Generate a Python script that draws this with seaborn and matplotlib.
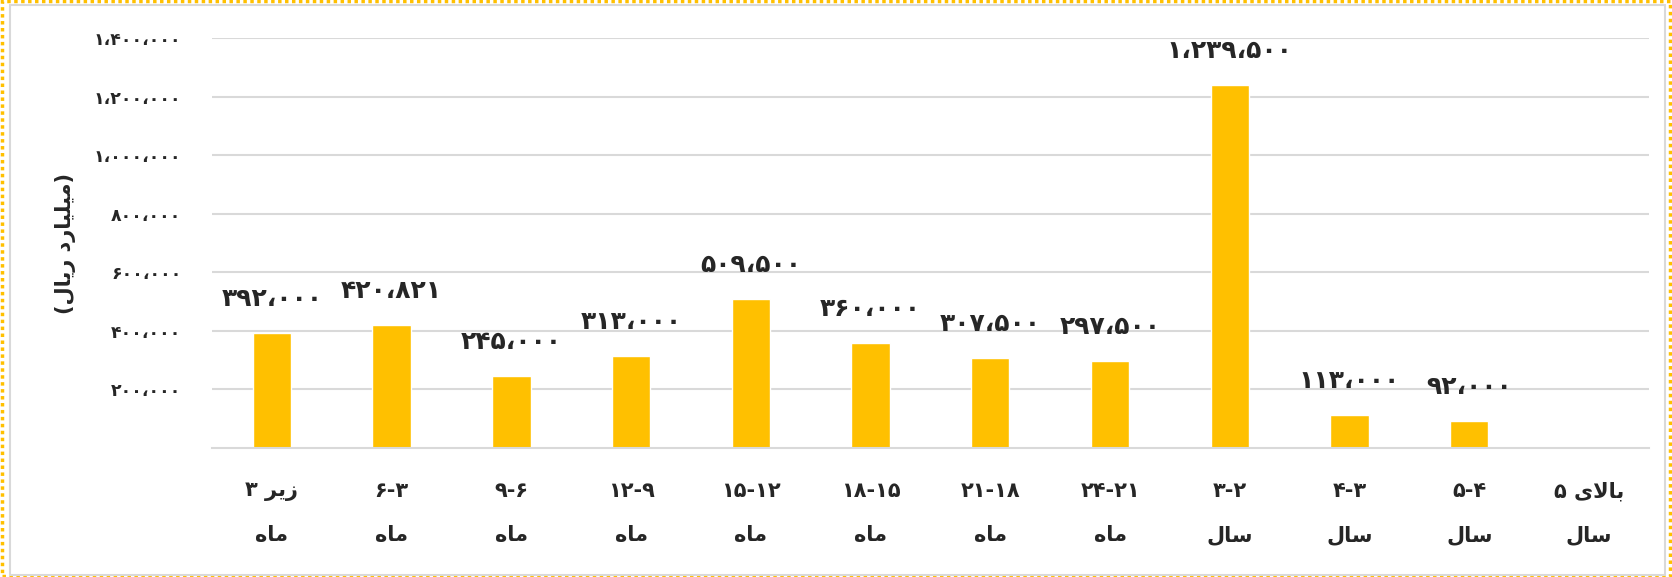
import numpy as np
import pandas as pd
import matplotlib
matplotlib.use("Agg")
import matplotlib.pyplot as plt
import seaborn as sns
from matplotlib.patches import Rectangle

# ---------- minimal Persian shaping (matplotlib has no RTL/joining support) ----------
FORMS = {
    'ا': ('\uFE8D', '\uFE8E', None, None),
    'ب': ('\uFE8F', '\uFE90', '\uFE91', '\uFE92'),
    'د': ('\uFEA9', '\uFEAA', None, None),
    'ر': ('\uFEAD', '\uFEAE', None, None),
    'ز': ('\uFEAF', '\uFEB0', None, None),
    'س': ('\uFEB1', '\uFEB2', '\uFEB3', '\uFEB4'),
    'ل': ('\uFEDD', '\uFEDE', '\uFEDF', '\uFEE0'),
    'م': ('\uFEE1', '\uFEE2', '\uFEE3', '\uFEE4'),
    'ه': ('\uFEE9', '\uFEEA', '\uFEEB', '\uFEEC'),
    'ی': ('\uFBFC', '\uFBFD', '\uFBFE', '\uFBFF'),
}
LAMALEF = ('\uFEFB', '\uFEFC')


def shape_word(w):
    """Return visual (left-to-right) string of one Persian word."""
    chars = list(w)
    out = []
    i = 0
    n = len(chars)
    while i < n:
        c = chars[i]
        prev = chars[i - 1] if i > 0 else None
        joins_prev = prev is not None and prev in FORMS and FORMS[prev][2] is not None
        if c == 'ل' and i + 1 < n and chars[i + 1] == 'ا':
            out.append(LAMALEF[1] if joins_prev else LAMALEF[0])
            i += 2
            continue
        if c not in FORMS:
            out.append(c)
            i += 1
            continue
        iso, fin, ini, med = FORMS[c]
        nxt = chars[i + 1] if i + 1 < n else None
        joins_next = ini is not None and nxt is not None and nxt in FORMS
        if joins_prev and joins_next:
            out.append(med)
        elif joins_prev:
            out.append(fin)
        elif joins_next:
            out.append(ini)
        else:
            out.append(iso)
        i += 1
    return ''.join(reversed(out))


FA_DIGITS = str.maketrans('0123456789,', '۰۱۲۳۴۵۶۷۸۹،')


def fa_num(v):
    return f"{int(round(v)):,}".translate(FA_DIGITS)


# ---------- data ----------
range_lines = ["۳ " + shape_word("زیر"), "۶-۳", "۹-۶", "۱۲-۹", "۱۵-۱۲", "۱۸-۱۵",
               "۲۱-۱۸", "۲۴-۲۱", "۳-۲", "۴-۳", "۵-۴", "۵ " + shape_word("بالای")]
unit_lines = [shape_word("ماه")] * 8 + [shape_word("سال")] * 4
categories = [f"{a}\n{b}" for a, b in zip(range_lines, unit_lines)]
values = [392000, 420821, 245000, 313000, 509500, 360000, 307500, 297500,
          1239500, 113000, 92000, np.nan]
y_ticks = [200000, 400000, 600000, 800000, 1000000, 1200000, 1400000]
y_label = "(" + shape_word("ریال") + " " + shape_word("میلیارد") + ")"

df = pd.DataFrame({"cat": categories, "value": values})

# ---------- plot ----------
sns.set_theme(style="white")
plt.rcParams['font.family'] = ['DejaVu Sans']
plt.rcParams['font.weight'] = 'bold'

fig = plt.figure(figsize=(16.72, 5.77), dpi=100)
ax = fig.add_axes([0.1268, 0.2236, 0.8594, 0.7097])

sns.barplot(data=df, x="cat", y="value", order=categories, color="#FFC000",
            saturation=1, width=0.32, errorbar=None, ax=ax)

ax.set_ylim(0, 1400000)
ax.set_yticks(y_ticks)
ax.set_yticklabels([fa_num(t) for t in y_ticks], fontsize=12.5, fontweight='bold')
ax.yaxis.grid(True, color="#d9d9d9", linewidth=1.5)
ax.set_axisbelow(True)
for s in ["top", "right", "left"]:
    ax.spines[s].set_visible(False)
ax.spines["bottom"].set_color("#d9d9d9")
ax.spines["bottom"].set_linewidth(1.5)
ax.tick_params(axis='y', length=0, pad=22)
ax.tick_params(axis='x', length=0, pad=24)
ax.set_xticks(range(len(categories)))
ax.set_xticklabels(categories, fontsize=15, fontweight='bold', linespacing=2.5)
ax.set_xlabel("")
ax.set_ylabel(y_label, fontsize=15, fontweight='bold')
ax.yaxis.set_label_coords(-0.095, 0.5)

for i, v in enumerate(values):
    if np.isnan(v):
        continue
    ax.annotate(fa_num(v), xy=(i, v), xytext=(0, 22), textcoords='offset pixels',
                ha='center', va='bottom', fontsize=18, fontweight='bold')

# figure border: yellow dotted outer, gray inner
fig.patches.append(Rectangle((0.001, 0.002), 0.998, 0.996, transform=fig.transFigure,
                             fill=False, edgecolor="#FFC000", linewidth=2.5,
                             linestyle=(0, (1, 1))))
fig.patches.append(Rectangle((0.006, 0.004), 0.99, 0.988, transform=fig.transFigure,
                             fill=False, edgecolor="#d9d9d9", linewidth=1.5))

fig.savefig("out.png", dpi=100, facecolor="white")
